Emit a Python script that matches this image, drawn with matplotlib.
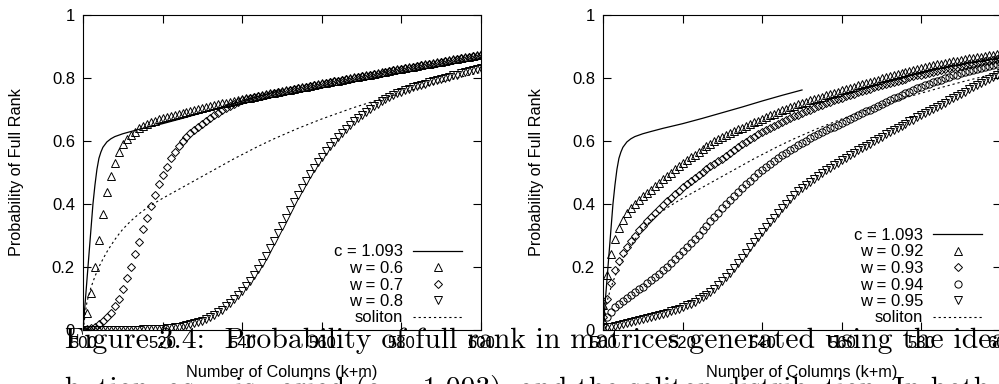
import matplotlib
matplotlib.use("Agg")
import matplotlib.pyplot as plt

plt.rcParams['font.family'] = ['Liberation Sans', 'DejaVu Sans']

# ---------------- data ----------------
cols = list(range(500, 601))

c_x = [500, 501, 502, 502.5, 503, 503.5, 504, 504.5, 505, 506, 507, 508,
       510, 512, 515, 520, 525, 530, 535, 540, 545, 550]
c_y = [0.0, 0.16, 0.32, 0.40, 0.46, 0.51, 0.545, 0.565, 0.58, 0.597, 0.607, 0.614,
       0.623, 0.630, 0.640, 0.655, 0.672, 0.690, 0.708, 0.727, 0.745, 0.762]

sol_x = [500, 501, 502, 503, 504, 505, 506, 507, 508, 509, 510, 512, 514, 516,
         518, 520, 522, 524, 526, 528, 530, 532, 534, 536, 538, 540, 542, 544,
         546, 548, 550, 552, 554, 556, 558, 560, 562, 564, 566, 568, 570, 575,
         580, 585, 590, 595, 600]
sol_y = [0.0, 0.09, 0.135, 0.17, 0.20, 0.225, 0.248, 0.268, 0.287, 0.304, 0.32,
         0.346, 0.368, 0.387, 0.403, 0.418, 0.432, 0.446, 0.46, 0.474, 0.488,
         0.502, 0.516, 0.53, 0.544, 0.557, 0.57, 0.583, 0.595, 0.607, 0.618,
         0.629, 0.64, 0.65, 0.66, 0.67, 0.679, 0.688, 0.697, 0.706, 0.714,
         0.734, 0.752, 0.77, 0.787, 0.803, 0.818]

w06 = [0.000, 0.054, 0.117, 0.200, 0.286, 0.368, 0.437, 0.490, 0.531, 0.564,
       0.589, 0.605, 0.619, 0.630, 0.640, 0.648, 0.655, 0.660, 0.665, 0.669,
       0.673, 0.676, 0.680, 0.683, 0.686, 0.690, 0.693, 0.696, 0.699, 0.702,
       0.705, 0.708, 0.711, 0.714, 0.717, 0.720, 0.722, 0.725, 0.728, 0.731,
       0.733, 0.736, 0.738, 0.741, 0.743, 0.746, 0.748, 0.751, 0.753, 0.756,
       0.758, 0.761, 0.763, 0.766, 0.768, 0.771, 0.773, 0.776, 0.778, 0.781,
       0.783, 0.785, 0.788, 0.790, 0.792, 0.795, 0.797, 0.799, 0.802, 0.804,
       0.806, 0.809, 0.811, 0.813, 0.816, 0.818, 0.820, 0.823, 0.825, 0.827,
       0.830, 0.832, 0.834, 0.836, 0.839, 0.841, 0.843, 0.845, 0.848, 0.850,
       0.852, 0.854, 0.857, 0.859, 0.861, 0.863, 0.866, 0.868, 0.870, 0.872,
       0.875]

w07 = [0.000, 0.002, 0.005, 0.010, 0.018, 0.028, 0.040, 0.055, 0.075, 0.100,
       0.130, 0.165, 0.200, 0.240, 0.280, 0.320, 0.357, 0.393, 0.428, 0.462,
       0.492, 0.519, 0.545, 0.566, 0.584, 0.599, 0.612, 0.624, 0.635, 0.645,
       0.655, 0.664, 0.673, 0.682, 0.690, 0.698, 0.705, 0.712, 0.718, 0.724,
       0.729, 0.733, 0.736, 0.739, 0.742, 0.744, 0.747, 0.749, 0.752, 0.754,
       0.757, 0.759, 0.762, 0.764, 0.767, 0.769, 0.772, 0.774, 0.777, 0.779,
       0.782, 0.784, 0.786, 0.789, 0.791, 0.793, 0.796, 0.798, 0.800, 0.803,
       0.805, 0.807, 0.810, 0.812, 0.814, 0.817, 0.819, 0.821, 0.824, 0.826,
       0.828, 0.831, 0.833, 0.835, 0.837, 0.840, 0.842, 0.844, 0.846, 0.849,
       0.851, 0.853, 0.855, 0.858, 0.860, 0.862, 0.864, 0.867, 0.869, 0.871,
       0.873]

w08 = [0.000, 0.000, 0.000, 0.000, 0.000, 0.000, 0.000, 0.000, 0.000, 0.000,
       0.000, 0.001, 0.001, 0.001, 0.001, 0.002, 0.002, 0.002, 0.003, 0.003,
       0.004, 0.005, 0.006, 0.008, 0.010, 0.012, 0.015, 0.018, 0.021, 0.025,
       0.030, 0.035, 0.041, 0.048, 0.056, 0.065, 0.075, 0.086, 0.098, 0.111,
       0.125, 0.140, 0.157, 0.175, 0.194, 0.214, 0.236, 0.259, 0.283, 0.307,
       0.331, 0.356, 0.381, 0.406, 0.430, 0.452, 0.474, 0.494, 0.513, 0.532,
       0.550, 0.567, 0.583, 0.598, 0.612, 0.625, 0.638, 0.650, 0.662, 0.673,
       0.683, 0.693, 0.702, 0.711, 0.719, 0.727, 0.734, 0.740, 0.746, 0.751,
       0.756, 0.761, 0.766, 0.770, 0.774, 0.778, 0.782, 0.786, 0.790, 0.794,
       0.797, 0.801, 0.804, 0.808, 0.811, 0.815, 0.818, 0.822, 0.825, 0.829,
       0.832]

w092 = [0.080, 0.175, 0.240, 0.290, 0.325, 0.350, 0.370, 0.386, 0.400, 0.413,
        0.424, 0.435, 0.446, 0.457, 0.468, 0.479, 0.490, 0.500, 0.510, 0.520,
        0.530, 0.539, 0.548, 0.557, 0.566, 0.575, 0.584, 0.592, 0.600, 0.607,
        0.614, 0.620, 0.625, 0.631, 0.637, 0.642, 0.648, 0.653, 0.659, 0.665,
        0.670, 0.676, 0.681, 0.687, 0.692, 0.698, 0.702, 0.707, 0.711, 0.716,
        0.720, 0.725, 0.729, 0.733, 0.737, 0.741, 0.745, 0.749, 0.753, 0.757,
        0.761, 0.765, 0.769, 0.773, 0.777, 0.781, 0.784, 0.788, 0.792, 0.795,
        0.799, 0.802, 0.806, 0.809, 0.813, 0.816, 0.819, 0.823, 0.826, 0.829,
        0.832, 0.835, 0.838, 0.841, 0.843, 0.846, 0.848, 0.851, 0.853, 0.855,
        0.858, 0.860, 0.862, 0.864, 0.866, 0.868, 0.870, 0.872, 0.874, 0.876,
        0.878]

w093 = [0.042, 0.100, 0.150, 0.190, 0.220, 0.245, 0.265, 0.283, 0.300, 0.316,
        0.331, 0.345, 0.358, 0.371, 0.384, 0.396, 0.408, 0.420, 0.431, 0.442,
        0.453, 0.463, 0.473, 0.483, 0.493, 0.502, 0.511, 0.520, 0.528, 0.536,
        0.544, 0.553, 0.562, 0.571, 0.580, 0.589, 0.597, 0.605, 0.613, 0.621,
        0.628, 0.635, 0.642, 0.649, 0.655, 0.661, 0.667, 0.673, 0.679, 0.684,
        0.690, 0.695, 0.700, 0.705, 0.710, 0.715, 0.720, 0.724, 0.729, 0.733,
        0.738, 0.742, 0.746, 0.750, 0.754, 0.758, 0.762, 0.766, 0.770, 0.774,
        0.778, 0.781, 0.785, 0.788, 0.792, 0.795, 0.798, 0.802, 0.805, 0.808,
        0.811, 0.814, 0.817, 0.820, 0.823, 0.826, 0.828, 0.831, 0.834, 0.836,
        0.839, 0.841, 0.844, 0.846, 0.848, 0.851, 0.853, 0.855, 0.857, 0.859,
        0.861]

w094 = [0.018, 0.040, 0.058, 0.072, 0.083, 0.093, 0.102, 0.111, 0.120, 0.129,
        0.138, 0.148, 0.158, 0.168, 0.179, 0.190, 0.201, 0.213, 0.225, 0.237,
        0.250, 0.263, 0.276, 0.289, 0.303, 0.317, 0.331, 0.345, 0.359, 0.373,
        0.387, 0.400, 0.413, 0.426, 0.438, 0.450, 0.462, 0.474, 0.486, 0.497,
        0.508, 0.518, 0.528, 0.537, 0.546, 0.555, 0.563, 0.571, 0.579, 0.587,
        0.594, 0.601, 0.608, 0.615, 0.621, 0.628, 0.634, 0.640, 0.646, 0.652,
        0.658, 0.664, 0.670, 0.676, 0.682, 0.688, 0.694, 0.700, 0.706, 0.712,
        0.718, 0.724, 0.729, 0.735, 0.740, 0.746, 0.751, 0.756, 0.762, 0.767,
        0.772, 0.777, 0.782, 0.787, 0.791, 0.795, 0.800, 0.804, 0.808, 0.811,
        0.815, 0.818, 0.822, 0.825, 0.829, 0.832, 0.835, 0.838, 0.841, 0.844,
        0.847]

w095 = [0.005, 0.008, 0.011, 0.014, 0.017, 0.020, 0.023, 0.026, 0.029, 0.032,
        0.035, 0.038, 0.041, 0.044, 0.047, 0.051, 0.055, 0.059, 0.063, 0.068,
        0.073, 0.078, 0.084, 0.090, 0.097, 0.104, 0.112, 0.121, 0.131, 0.142,
        0.154, 0.167, 0.181, 0.196, 0.212, 0.228, 0.245, 0.262, 0.279, 0.295,
        0.310, 0.326, 0.342, 0.357, 0.372, 0.387, 0.401, 0.415, 0.428, 0.441,
        0.451, 0.461, 0.471, 0.480, 0.489, 0.498, 0.507, 0.515, 0.523, 0.531,
        0.539, 0.547, 0.555, 0.563, 0.570, 0.578, 0.585, 0.592, 0.600, 0.607,
        0.614, 0.621, 0.627, 0.634, 0.641, 0.648, 0.655, 0.662, 0.668, 0.675,
        0.682, 0.688, 0.694, 0.701, 0.708, 0.715, 0.722, 0.729, 0.736, 0.743,
        0.750, 0.757, 0.764, 0.771, 0.778, 0.785, 0.792, 0.798, 0.804, 0.810,
        0.816]

left_series = [("w = 0.6", w06, '^'), ("w = 0.7", w07, 'D'), ("w = 0.8", w08, 'v')]
right_series = [("w = 0.92", w092, '^'), ("w = 0.93", w093, 'D'),
                ("w = 0.94", w094, 'o'), ("w = 0.95", w095, 'v')]

x_ticks = [500, 520, 540, 560, 580, 600]
y_ticks = [0, 0.2, 0.4, 0.6, 0.8, 1]
y_ticklabels = ['0', '0.2', '0.4', '0.6', '0.8', '1']

caption1 = "Figure 3.4:  Probability of full rank in matrices generated using the ideal soliton"
caption2 = "bution, as w is varied (c = 1.093), and the soliton distribution. In both, k = 500."

# ---------------- figure ----------------
W, H = 999, 384
fig = plt.figure(figsize=(9.99, 3.84), dpi=100)

marker_sizes = {'^': 6.2, 'v': 6.2, 'D': 4.5, 'o': 5.2}


def draw_panel(left_px, series):
    ax = fig.add_axes([left_px / W, (H - 330) / H, 398 / W, 315 / H])
    handles = []
    labels = []
    h, = ax.plot(c_x, c_y, color='black', lw=0.9, zorder=2)
    handles.append(h); labels.append("c = 1.093")
    for lab, vals, mk in series:
        h, = ax.plot(cols, vals, linestyle='none', marker=mk,
                     ms=marker_sizes[mk], mfc='none', mec='black', mew=0.7, zorder=3)
        handles.append(h); labels.append(lab)
    h, = ax.plot(sol_x, sol_y, color='black', lw=0.8, linestyle=(0, (2.0, 2.6)), zorder=2)
    handles.append(h); labels.append("soliton")

    ax.set_xlim(500, 600)
    ax.set_ylim(0, 1)
    ax.set_xticks(x_ticks)
    ax.set_yticks(y_ticks)
    ax.set_yticklabels(y_ticklabels)
    ax.tick_params(direction='in', length=5.8, width=0.8, top=True, right=True,
                   labelsize=12, colors='black')
    ax.tick_params(axis='y', pad=5.8)
    ax.tick_params(axis='x', pad=4.3)
    for s in ax.spines.values():
        s.set_linewidth(0.8)

    ax.set_xlabel('Number of Columns (k+m)', fontsize=11.7)
    ax.xaxis.set_label_coords(0.5, (330 - 372.7) / 315)
    ax.xaxis.label.set_va('center')
    ax.set_ylabel('Probability of Full Rank', fontsize=11.7)
    ax.yaxis.set_label_coords(-66 / 398, 0.5)
    ax.yaxis.label.set_va('center')

    leg = ax.legend(handles, labels, loc='lower right',
                    bbox_to_anchor=(1 - 19 / 398, 4.5 / 315),
                    frameon=False, markerfirst=False, fontsize=12,
                    handlelength=2.93, handletextpad=0.6, labelspacing=0.09,
                    borderpad=0, borderaxespad=0, numpoints=1)
    for col in leg._legend_handle_box.get_children():
        col.align = 'right'
    return ax


ax1 = draw_panel(83, left_series)
ax2 = draw_panel(603, right_series)

fig.text(65 / W, (H - 348) / H, caption1, fontfamily='cmr10', fontsize=21.4,
         va='baseline', ha='left', color='black', zorder=10)
fig.text(65 / W, (H - 397) / H, caption2, fontfamily='cmr10', fontsize=21.4,
         va='baseline', ha='left', color='black', zorder=10)

fig.savefig('out.png', dpi=100)
